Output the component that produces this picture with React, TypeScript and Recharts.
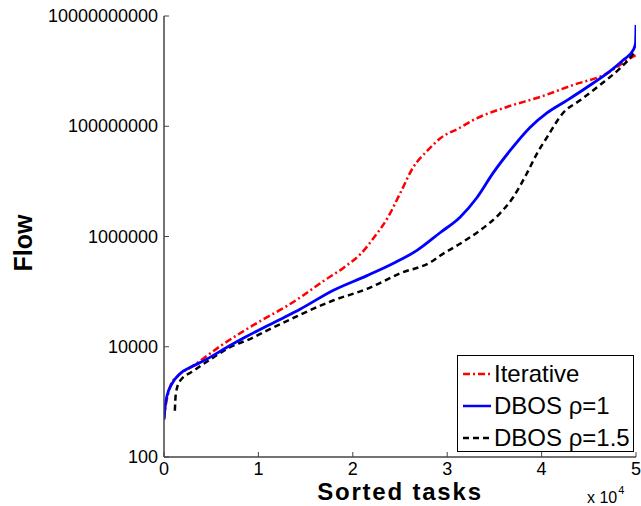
import React from 'react';
import { LineChart, Line, XAxis, YAxis } from 'recharts';

const FONT = '"Liberation Sans", Arial, Helvetica, sans-serif';

const xTicks = [0, 10000, 20000, 30000, 40000, 50000];
const yTicks = [100, 10000, 1000000, 100000000, 10000000000];

const iterX = [0, 150, 300, 700, 1500, 3000, 6040, 8480, 10590, 13030, 14410, 16950, 19070, 20870, 22240, 23730, 25000, 26400, 27900, 29240, 31400, 32730, 36330, 39830, 43330, 46930, 49050, 50000];
const iterY = [480, 800, 1100, 2000, 3000, 4400, 10500, 19500, 32000, 55000, 78000, 158000, 275000, 490000, 955000, 2240000, 6000000, 18000000, 36000000, 60000000, 95000000, 129000000, 224000000, 340000000, 560000000, 910000000, 1580000000, 1950000000];

const dbos1X = [0, 150, 300, 850, 1700, 3070, 4240, 6360, 8480, 10590, 12710, 14410, 17900, 21500, 24260, 26800, 29240, 31360, 33160, 34850, 36650, 38770, 40570, 42690, 44810, 46930, 48620, 49700, 49950, 50000];
const dbos1Y = [480, 900, 1250, 2140, 3240, 4470, 5600, 9100, 14500, 22400, 34000, 48000, 105000, 195000, 324000, 560000, 1170000, 2240000, 5100000, 14100000, 36000000, 95000000, 174000000, 295000000, 510000000, 910000000, 1580000000, 2400000000, 3200000000, 6900000000];

const dbos15X = [1150, 1250, 1700, 3070, 4980, 7100, 9220, 11330, 13450, 14410, 17900, 21500, 25000, 28500, 29240, 31360, 33470, 35590, 36970, 38450, 39510, 40570, 42270, 44070, 46190, 48300, 49160, 50000];
const dbos15Y = [690, 1400, 2400, 3600, 6000, 10000, 14100, 21400, 31600, 38000, 69000, 112000, 214000, 363000, 447000, 740000, 1290000, 2630000, 5100000, 14100000, 32000000, 63000000, 174000000, 295000000, 560000000, 1120000000, 1580000000, 2400000000];

const zip = (xs: number[], ys: number[]) => xs.map((x, i) => ({ x, y: ys[i] }));
const iterData = zip(iterX, iterY);
const dbos1Data = zip(dbos1X, dbos1Y);
const dbos15Data = zip(dbos15X, dbos15Y);

const AXIS_COLOR = '#444';

const YTick = (props: any) => {
  const { x, y, payload } = props;
  return (
    <g>
      <line x1={x} x2={x + 5} y1={y} y2={y} stroke={AXIS_COLOR} strokeWidth={1} />
      <text x={x - 6} y={y} dy={6} textAnchor="end" fontSize={18} fontFamily={FONT} fill="#000">
        {String(payload.value)}
      </text>
    </g>
  );
};

const XTick = (props: any) => {
  const { x, y, payload } = props;
  return (
    <g>
      <line x1={x} x2={x} y1={y} y2={y - 5} stroke={AXIS_COLOR} strokeWidth={1} />
      <text x={x} y={y} dy={18} textAnchor="middle" fontSize={18} fontFamily={FONT} fill="#000">
        {String(payload.value / 10000)}
      </text>
    </g>
  );
};

const LegendBox = () => {
  const rows = [
    { name: 'Iterative', color: '#ff0000', dash: '7 3 2 3' },
    { name: 'DBOS \u03c1=1', color: '#0000ff', dash: undefined },
    { name: 'DBOS \u03c1=1.5', color: '#000000', dash: '6 4' },
  ];
  return (
    <div
      style={{
        position: 'absolute',
        left: 457,
        top: 355,
        width: 175,
        height: 95,
        border: '1px solid #000',
        background: '#fff',
        fontFamily: FONT,
        fontSize: 24,
        boxSizing: 'content-box',
      }}
    >
      {rows.map((r, i) => (
        <div key={r.name} style={{ position: 'absolute', left: 0, top: 3 + i * 32, height: 30, display: 'flex', alignItems: 'center' }}>
          <svg width={35} height={30} style={{ display: 'block' }}>
            <line x1={5} x2={33} y1={15} y2={15} stroke={r.color} strokeWidth={2.5} strokeDasharray={r.dash} />
          </svg>
          <span style={{ marginLeft: 1, color: '#000', whiteSpace: 'nowrap' }}>{r.name}</span>
        </div>
      ))}
    </div>
  );
};

export default function App() {
  return (
    <div style={{ position: 'absolute', left: 0, top: 0, width: 641, height: 506, background: '#fff', overflow: 'hidden' }}>
      <LineChart width={641} height={506} margin={{ top: 16, right: 5, left: 0, bottom: 0 }}>
        <XAxis
          dataKey="x"
          type="number"
          domain={[0, 50000]}
          ticks={xTicks}
          interval={0}
          allowDataOverflow
          height={49}
          tickSize={0}
          tickMargin={0}
          tickLine={false}
          tick={<XTick />}
          axisLine={{ stroke: AXIS_COLOR, strokeWidth: 1.5 }}
        />
        <YAxis
          dataKey="y"
          type="number"
          scale="log"
          domain={[100, 10000000000]}
          ticks={yTicks}
          interval={0}
          allowDataOverflow
          width={164}
          tickSize={0}
          tickMargin={0}
          tickLine={false}
          tick={<YTick />}
          axisLine={{ stroke: AXIS_COLOR, strokeWidth: 1.5 }}
        />
        <Line data={iterData} dataKey="y" type="monotone" stroke="#ff0000" strokeWidth={2.5} strokeDasharray="7 3 2 3" dot={false} isAnimationActive={false} />
        <Line data={dbos15Data} dataKey="y" type="monotone" stroke="#000000" strokeWidth={2.5} strokeDasharray="6 4" dot={false} isAnimationActive={false} />
        <Line data={dbos1Data} dataKey="y" type="monotone" stroke="#0000ff" strokeWidth={2.8} dot={false} isAnimationActive={false} />
      </LineChart>
      <svg style={{ position: 'absolute', left: 0, top: 0, pointerEvents: 'none' }} width={641} height={506}>
        <text x={32} y={243} transform="rotate(-90 32 243)" textAnchor="middle" fontSize={25} fontWeight="bold" fontFamily={FONT} fill="#000">
          Flow
        </text>
        <text x={400} y={500} textAnchor="middle" fontSize={24} fontWeight="bold" fontFamily={FONT} fill="#000" letterSpacing={1.8}>
          Sorted tasks
        </text>
        <text x={587} y={503} fontSize={16} fontFamily={FONT} fill="#000">
          x 10
          <tspan dx={1} dy={-9} fontSize={11}>4</tspan>
        </text>
      </svg>
      <LegendBox />
    </div>
  );
}
